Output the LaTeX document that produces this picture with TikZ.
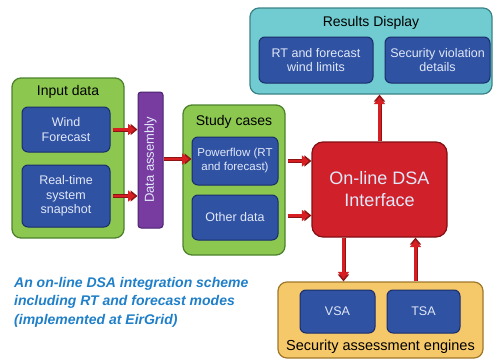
\documentclass[tikz,border=0pt]{standalone}
\usepackage{fontspec}
\setmainfont{Liberation Sans}
\usetikzlibrary{arrows.meta,calc}
\definecolor{gfill}{RGB}{140,200,80}
\definecolor{gdraw}{RGB}{78,130,46}
\definecolor{bfill}{RGB}{47,82,163}
\definecolor{bdraw}{RGB}{27,45,105}
\definecolor{btext}{RGB}{225,232,248}
\definecolor{pfill}{RGB}{120,60,160}
\definecolor{pdraw}{RGB}{75,35,110}
\definecolor{rfill}{RGB}{208,32,42}
\definecolor{rdraw}{RGB}{130,15,20}
\definecolor{tfill}{RGB}{112,204,208}
\definecolor{tdraw}{RGB}{60,130,135}
\definecolor{ofill}{RGB}{245,200,106}
\definecolor{odraw}{RGB}{160,120,40}
\definecolor{capblue}{RGB}{31,127,200}
\definecolor{arr}{RGB}{215,30,35}
\definecolor{arrd}{RGB}{140,20,20}
\tikzset{
  grp/.style={draw=gdraw,fill=gfill,line width=1.3pt,rounded corners=9pt,inner sep=0pt},
  blk/.style={draw=bdraw,fill=bfill,line width=1pt,rounded corners=6pt,inner sep=0pt,
     text=btext,align=center,font=\fontsize{12.5}{14.5}\selectfont},
  ttl/.style={font=\fontsize{14}{16}\selectfont,text=black},
  flow/.style={line width=4pt,draw=arrd,-{Triangle[length=7pt,width=11pt]},
     postaction={draw=arr,line width=2.4pt,shorten >=2.5pt}},
}
\begin{document}
\begin{tikzpicture}[x=1pt,y=-1pt]
\useasboundingbox (0,0) rectangle (493,359);
% Input data group
\node[grp,minimum width=112pt,minimum height=160pt] (inp) at (68,158) {};
\node[ttl] (inpt) at (68,92) {Input data};
\node[blk,minimum width=88pt,minimum height=45pt] (wind) at (66,129.5) {Wind\\Forecast};
\node[blk,minimum width=88pt,minimum height=62pt] (rts) at (66,196) {Real-time\\system\\snapshot};
% Data assembly
\node[draw=pdraw,fill=pfill,line width=1pt,rounded corners=3pt,minimum width=25pt,minimum height=136pt,inner sep=0pt] (da) at (150.5,160) {};
\node[rotate=90,text=btext,font=\fontsize{13}{15}\selectfont] (dat) at (da.center) {Data assembly};
% Study cases
\node[grp,minimum width=102pt,minimum height=150pt] (sc) at (234,180) {};
\node[ttl] (sct) at (234,122) {Study cases};
\node[blk,minimum width=86pt,minimum height=48pt,font=\fontsize{11.5}{14}\selectfont] (pf) at (235,161) {Powerflow (RT\\and forecast)};
\node[blk,minimum width=86pt,minimum height=45pt] (od) at (235,217.5) {Other data};
% Red interface
\node[draw=rdraw,fill=rfill,line width=1.2pt,rounded corners=11pt,minimum width=135pt,minimum height=95pt,inner sep=0pt,
  text=btext,align=center,font=\fontsize{18}{22}\selectfont] (dsa) at (379.5,189.5) {On-line DSA\\Interface};
% Results display
\node[draw=tdraw,fill=tfill,line width=1.2pt,rounded corners=9pt,minimum width=242pt,minimum height=86pt,inner sep=0pt] (res) at (371,51) {};
\node[ttl] (rest) at (371,23) {Results Display};
\node[blk,minimum width=114pt,minimum height=46pt] (rtw) at (316,60) {RT and forecast\\wind limits};
\node[blk,minimum width=105pt,minimum height=46pt] (sv) at (437.5,60) {Security violation\\details};
% Security assessment engines
\node[draw=odraw,fill=ofill,line width=1.2pt,rounded corners=9pt,minimum width=205pt,minimum height=76pt,inner sep=0pt] (sae) at (380.5,320) {};
\node[ttl,font=\fontsize{14.5}{16}\selectfont] (saet) at (380.5,347) {Security assessment engines};
\node[blk,minimum width=75pt,minimum height=43pt] (vsa) at (337.5,311.5) {VSA};
\node[blk,minimum width=73pt,minimum height=43pt] (tsa) at (423.5,311.5) {TSA};
% Arrows
\draw[flow] ([xshift=2pt]wind.east) -- (wind.east -| da.west);
\draw[flow] ([xshift=2pt]rts.east) -- (rts.east -| da.west);
\draw[flow] ($(da.east |- pf.west)+(0,-2)$) -- ($(pf.west)+(0,-2)$);
\draw[flow] ($(pf.east)+(9,0)$) -- (pf.east -| dsa.west);
\draw[flow] ($(od.east)+(9,-2)$) -- ($(od.east -| dsa.west)+(0,-2)$);
\draw[flow] (dsa.north) -- (dsa.north |- res.south);
\draw[flow] ($(dsa.south)+(-36,0)$) -- ($(dsa.south |- sae.north)+(-36,0)$);
\draw[flow] ($(dsa.south |- sae.north)+(36,0)$) -- ($(dsa.south)+(36,0)$);
% Caption
\node[anchor=north west,align=left,text=capblue,inner sep=0pt,
  font=\fontsize{14}{18.5}\selectfont\bfseries\itshape] (cap) at (14,277)
  {An on-line DSA integration scheme\\including RT and forecast modes\\(implemented at EirGrid)};
\end{tikzpicture}
\end{document}
